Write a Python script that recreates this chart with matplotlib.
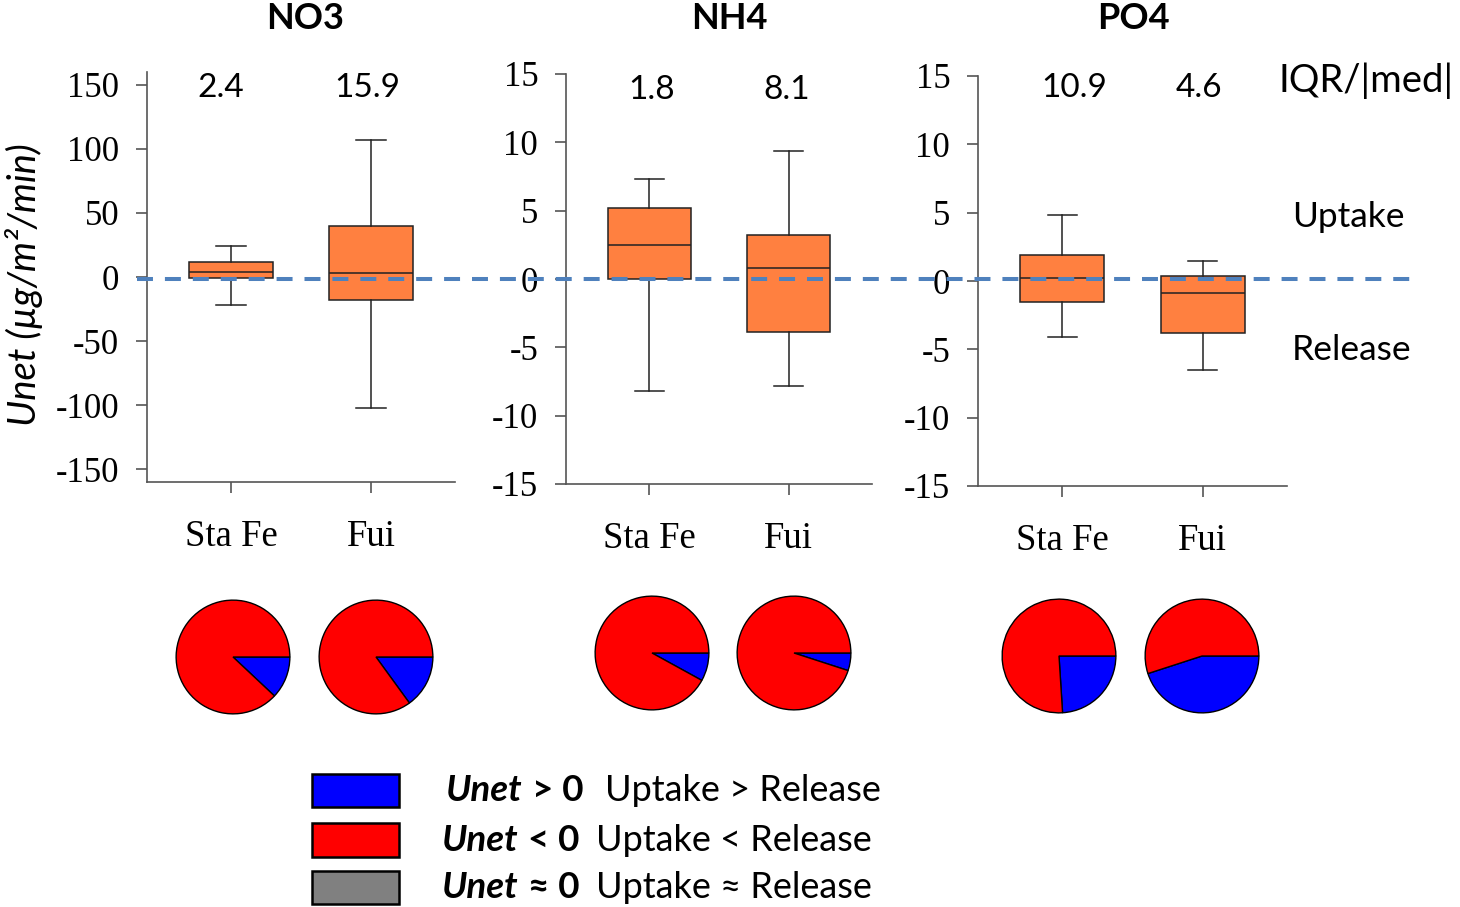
import matplotlib
matplotlib.use("Agg")
import matplotlib.pyplot as plt
from matplotlib.lines import Line2D
from matplotlib.patches import Rectangle

plt.rcParams['axes.unicode_minus'] = False
plt.rcParams['lines.scale_dashes'] = False

W, H = 1460, 907
SANS = ['Lato', 'DejaVu Sans']
SERIF = ['Liberation Serif', 'DejaVu Serif']

# ---- data ----
stations = ["Sta Fe", "Fui"]
nutrients = ["NO3", "NH4", "PO4"]

no3_whislo = [-22, -102]
no3_q1 = [-1, -18]
no3_med = [4, 3]
no3_q3 = [11.5, 40]
no3_whishi = [24, 107]

nh4_whislo = [-8.2, -7.8]
nh4_q1 = [0.0, -3.9]
nh4_med = [2.5, 0.8]
nh4_q3 = [5.2, 3.2]
nh4_whishi = [7.3, 9.4]

po4_whislo = [-4.1, -6.5]
po4_q1 = [-1.5, -3.8]
po4_med = [0.25, -0.9]
po4_q3 = [1.9, 0.4]
po4_whishi = [4.8, 1.5]

no3_iqr_med = ["2.4", "15.9"]
nh4_iqr_med = ["1.8", "8.1"]
po4_iqr_med = ["10.9", "4.6"]

# pie shares (%): uptake > release (blue), uptake < release (red)
no3_uptake = [12, 15]
no3_release = [88, 85]
nh4_uptake = [8, 5]
nh4_release = [92, 95]
po4_uptake = [24, 45]
po4_release = [76, 55]

yticks_no3 = [-150, -100, -50, 0, 50, 100, 150]
yticks_small = [-15, -10, -5, 0, 5, 10, 15]


def fx(x):
    return x / W


def fy(y):
    return 1 - y / H


fig = plt.figure(figsize=(W / 100, H / 100), dpi=100)

panels = [
    dict(name="NO3", rect=(147, 455, 72, 482), ylim=(-160, 160), yticks=yticks_no3,
         stats=(no3_whislo, no3_q1, no3_med, no3_q3, no3_whishi), iqr=no3_iqr_med,
         iqr_x=(221, 367), iqr_y=97, title_x=305,
         up=no3_uptake, rel=no3_release, pie_x=(233, 376), pie_y=657),
    dict(name="NH4", rect=(566, 872, 74, 484), ylim=(-15, 15), yticks=yticks_small,
         stats=(nh4_whislo, nh4_q1, nh4_med, nh4_q3, nh4_whishi), iqr=nh4_iqr_med,
         iqr_x=(652, 787), iqr_y=99, title_x=729,
         up=nh4_uptake, rel=nh4_release, pie_x=(652, 794), pie_y=653),
    dict(name="PO4", rect=(978, 1287, 76, 486), ylim=(-15, 15), yticks=yticks_small,
         stats=(po4_whislo, po4_q1, po4_med, po4_q3, po4_whishi), iqr=po4_iqr_med,
         iqr_x=(1074, 1199), iqr_y=97, title_x=1133,
         up=po4_uptake, rel=po4_release, pie_x=(1059, 1202), pie_y=656),
]

spine_c = '#555555'
edge_c = '#222222'

for p in panels:
    x0, x1, y0, y1 = p['rect']
    ax = fig.add_axes([fx(x0), fy(y1), (x1 - x0) / W, (y1 - y0) / H])
    lo, q1, med, q3, hi = p['stats']
    bstats = [dict(whislo=lo[i], q1=q1[i], med=med[i], q3=q3[i], whishi=hi[i], label=stations[i])
              for i in range(len(stations))]
    ax.bxp(bstats, positions=[1, 2], widths=0.6, patch_artist=True, showfliers=False,
           capwidths=0.21,
           boxprops=dict(facecolor='#FF8040', edgecolor=edge_c, linewidth=1.1),
           medianprops=dict(color=edge_c, linewidth=1.1),
           whiskerprops=dict(color=edge_c, linewidth=1.1),
           capprops=dict(color=edge_c, linewidth=1.1))
    ax.set_xlim(0.4, 2.6)
    ax.set_ylim(*p['ylim'])
    ax.set_yticks(p['yticks'], labels=[str(t) for t in p['yticks']], fontsize=25, fontfamily=SERIF)
    ax.set_xticks([1, 2], labels=stations, fontsize=26.5, fontfamily=SERIF)
    for s in ['top', 'right']:
        ax.spines[s].set_visible(False)
    for s in ['left', 'bottom']:
        ax.spines[s].set_color(spine_c)
        ax.spines[s].set_linewidth(1.2)
    ax.tick_params(axis='y', direction='out', length=8, width=1.2, color=spine_c, pad=12)
    ax.tick_params(axis='x', direction='out', length=8, width=1.2, color=spine_c, pad=19)
    ax.patch.set_alpha(0)

    fig.text(fx(p['title_x']), fy(29), p['name'], fontsize=26, fontweight='bold',
             family=SANS, ha='center', va='baseline')
    for xi, t in zip(p['iqr_x'], p['iqr']):
        fig.text(fx(xi), fy(p['iqr_y']), t, fontsize=24, family=SANS, ha='center', va='baseline')

    r = 58
    for cx, up, rel in zip(p['pie_x'], p['up'], p['rel']):
        pax = fig.add_axes([fx(cx - r), fy(p['pie_y'] + r), 2 * r / W, 2 * r / H])
        pax.pie([up, rel], colors=['#0000FF', '#FF0000'], startangle=0, counterclock=False,
                wedgeprops=dict(edgecolor='black', linewidth=1))
        pax.set_aspect('equal')
        pax.set_xlim(-1.02, 1.02)
        pax.set_ylim(-1.02, 1.02)

# zero line across all panels
fig.add_artist(Line2D([fx(137), fx(1415)], [fy(279), fy(279)], transform=fig.transFigure,
                      color='#4F81BD', linewidth=2.9, linestyle=(0, (11.5, 8.6))))

# axis label and side annotations
fig.text(fx(24), fy(285), "Unet (\u00b5g/m\u00b2/min)", rotation=90, fontsize=27.5,
         style='italic', family=SANS, ha='center', va='center')
fig.text(fx(1278), fy(92), "IQR/|med|", fontsize=27.5, family=SANS, ha='left', va='baseline')
fig.text(fx(1292), fy(227), "Uptake", fontsize=25.5, family=SANS, ha='left', va='baseline')
fig.text(fx(1292), fy(360), "Release", fontsize=25.5, family=SANS, ha='left', va='baseline')

# legend
leg_colors = ['#0000FF', '#FF0000', '#808080']
leg_ops = ["> 0", "< 0", "\u2248 0"]
leg_desc = ["Uptake > Release", "Uptake < Release", "Uptake \u2248 Release"]
leg_box_y = [(774, 807), (823, 857), (871, 904)]
leg_base = [801, 851, 898]
leg_unet_x = [446, 442, 442]
leg_desc_x = [605, 596, 596]

renderer = fig.canvas.get_renderer()
for i in range(3):
    yb0, yb1 = leg_box_y[i]
    fig.add_artist(Rectangle((fx(312), fy(yb1)), 87 / W, (yb1 - yb0) / H, transform=fig.transFigure,
                             facecolor=leg_colors[i], edgecolor='black', linewidth=1.8))
    t = fig.text(fx(leg_unet_x[i]), fy(leg_base[i]), "Unet", fontsize=26.5, fontweight='bold',
                 style='italic', family=SANS, va='baseline')
    x_end = t.get_window_extent(renderer).x1
    fig.text(fx(x_end + 9), fy(leg_base[i]), leg_ops[i], fontsize=26.5, fontweight='bold',
             family=SANS, va='baseline')
    fig.text(fx(leg_desc_x[i]), fy(leg_base[i]), leg_desc[i], fontsize=26, family=SANS, va='baseline')

fig.savefig("out.png", dpi=100)
